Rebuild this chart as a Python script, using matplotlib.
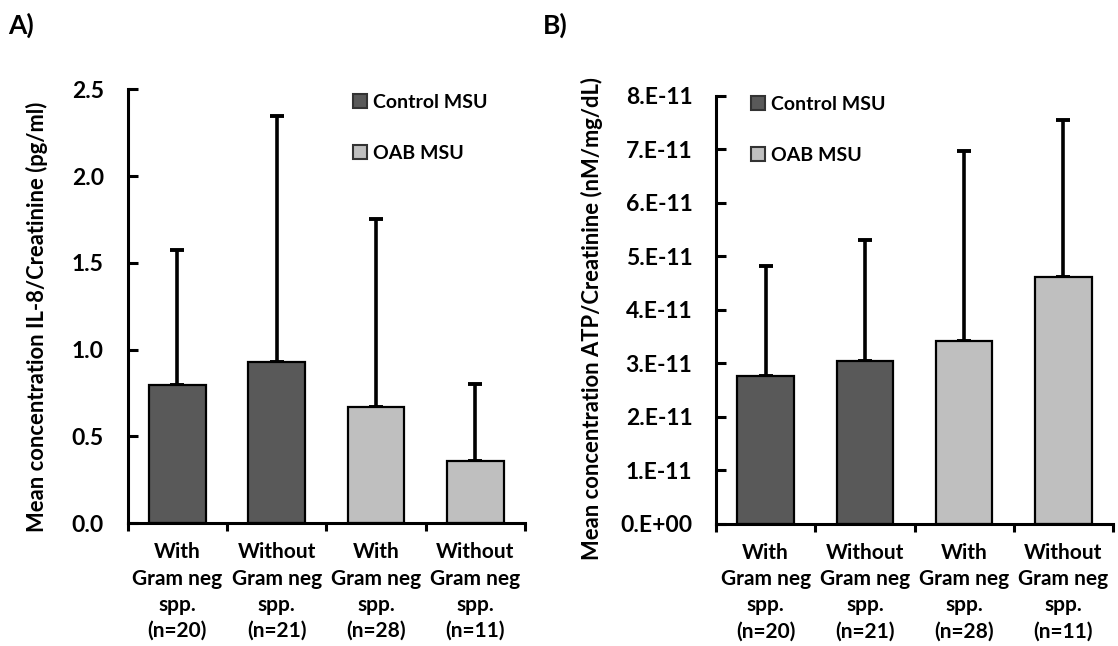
import matplotlib
matplotlib.use("Agg")
import matplotlib.pyplot as plt
from matplotlib.ticker import FixedLocator, FixedFormatter

plt.rcParams['font.family'] = ['Lato', 'DejaVu Sans']
plt.rcParams['font.weight'] = 'bold'

categories = ["With\nGram neg\nspp.\n(n=20)", "Without\nGram neg\nspp.\n(n=21)",
              "With\nGram neg\nspp.\n(n=28)", "Without\nGram neg\nspp.\n(n=11)"]
groups = ["Control MSU", "Control MSU", "OAB MSU", "OAB MSU"]

il8_mean = [0.795, 0.927, 0.667, 0.355]
il8_err = [0.78, 1.42, 1.085, 0.445]
il8_ticks = [0.0, 0.5, 1.0, 1.5, 2.0, 2.5]
il8_ticklabels = ["0.0", "0.5", "1.0", "1.5", "2.0", "2.5"]

atp_mean = [2.77e-11, 3.05e-11, 3.42e-11, 4.61e-11]
atp_err = [2.05e-11, 2.25e-11, 3.55e-11, 2.94e-11]
atp_ticks = [0, 1e-11, 2e-11, 3e-11, 4e-11, 5e-11, 6e-11, 7e-11, 8e-11]
atp_ticklabels = ["0.E+00", "1.E-11", "2.E-11", "3.E-11", "4.E-11", "5.E-11",
                  "6.E-11", "7.E-11", "8.E-11"]

colors = {"Control MSU": "#595959", "OAB MSU": "#bfbfbf"}

fig = plt.figure(figsize=(11.18, 6.46), dpi=100)
W, H = 1118, 646
axA = fig.add_axes([127.5 / W, 1 - 523 / H, (525 - 127.5) / W, (523 - 89.3) / H])
axB = fig.add_axes([716 / W, 1 - 523.7 / H, (1113 - 716) / W, (523.7 - 95.7) / H])


def draw(ax, means, errs, ticks, ticklabels, ylabel, label_xy, leg_anchor):
    x = list(range(len(means)))
    cols = [colors[g] for g in groups]
    bars = ax.bar(x, means, width=0.57, color=cols, edgecolor='black', linewidth=1.6,
                  zorder=2)
    ax.errorbar(x, means, yerr=[[0] * len(errs), errs], fmt='none', ecolor='black',
                elinewidth=2.6, capsize=5, capthick=2.8, zorder=1)
    ax.set_xlim(-0.5, len(means) - 0.5)
    ax.set_ylim(ticks[0], ticks[-1])
    ax.yaxis.set_major_locator(FixedLocator(ticks))
    ax.yaxis.set_major_formatter(FixedFormatter(ticklabels))
    ax.set_xticks(x)
    ax.set_xticklabels(categories, fontsize=15, fontweight='bold', linespacing=1.38)
    ax.set_xticks([i + 0.5 for i in range(-1, len(means))], minor=True)
    ax.tick_params(axis='x', which='major', length=0, pad=14)
    ax.tick_params(axis='x', which='minor', length=6, width=2.2, direction='out')
    ax.tick_params(axis='y', which='major', length=7, width=2.2, direction='in',
                   pad=17, labelsize=16.5)
    for t in ax.get_yticklabels():
        t.set_fontweight('bold')
    for s in ['top', 'right']:
        ax.spines[s].set_visible(False)
    for s in ['left', 'bottom']:
        ax.spines[s].set_linewidth(2.2)
    ax.set_ylabel(ylabel, fontsize=15.8, fontweight='bold')
    ax.yaxis.set_label_coords(*label_xy)
    handles = [bars[0], bars[2]]
    leg = ax.legend(handles, ["Control MSU", "OAB MSU"], loc='upper left',
                    bbox_to_anchor=leg_anchor, frameon=False, fontsize=14,
                    handlelength=0.75, handleheight=0.75, handletextpad=0.3,
                    labelspacing=1.75, borderpad=0, borderaxespad=0)
    for t in leg.get_texts():
        t.set_fontweight('bold')
    for h in leg.legend_handles:
        h.set_edgecolor('#333333')
        h.set_linewidth(1.5)


draw(axA, il8_mean, il8_err, il8_ticks, il8_ticklabels,
     "Mean concentration IL-8/Creatinine (pg/ml)", (-0.2, 0.475), (0.567, 0.99))
draw(axB, atp_mean, atp_err, atp_ticks, atp_ticklabels,
     "Mean concentration ATP/Creatinine (nM/mg/dL)", (-0.285, 0.48), (0.087, 1.0))

fig.text(8 / W, 1 - 25 / H, "A)", fontsize=19, fontweight='bold', va='center', ha='left')
fig.text(543 / W, 1 - 25 / H, "B)", fontsize=19, fontweight='bold', va='center', ha='left')

fig.savefig("out.png", dpi=100)
